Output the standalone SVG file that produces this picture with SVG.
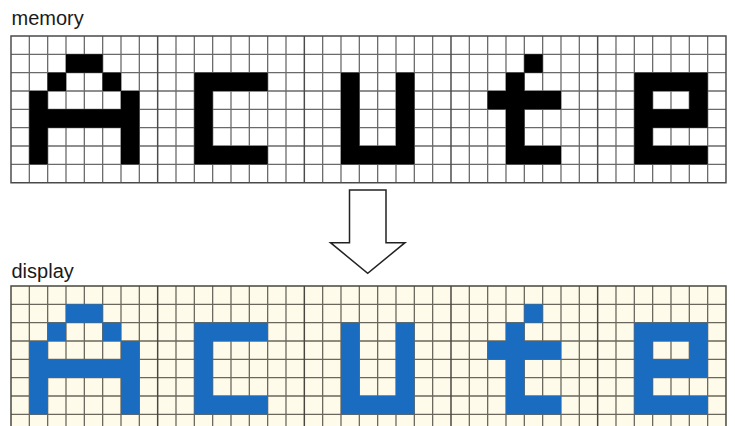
<svg xmlns="http://www.w3.org/2000/svg" xmlns:xlink="http://www.w3.org/1999/xlink" width="735" height="426" viewBox="0 0 735 426">
  <style>
    .label { font-family: "Liberation Sans", Arial, sans-serif; font-size: 20px; fill: #1a1a1a; }
    .grid { fill: none; stroke: #6a6a6a; stroke-width: 0.07; }
    .block { fill: none; stroke: #4a4a4a; stroke-width: 0.08; }
    .arrow { fill: #ffffff; stroke: #222222; stroke-width: 1.5; stroke-linejoin: miter; }
  </style>
  <defs>
    <path id="gridlines" d="M1,0V8M2,0V8M3,0V8M4,0V8M5,0V8M6,0V8M7,0V8M9,0V8M10,0V8M11,0V8M12,0V8M13,0V8M14,0V8M15,0V8M17,0V8M18,0V8M19,0V8M20,0V8M21,0V8M22,0V8M23,0V8M25,0V8M26,0V8M27,0V8M28,0V8M29,0V8M30,0V8M31,0V8M33,0V8M34,0V8M35,0V8M36,0V8M37,0V8M38,0V8M0,1H39M0,2H39M0,3H39M0,4H39M0,5H39M0,6H39M0,7H39"/>
    <path id="blocklines" d="M0,0H39V8H0ZM8,0V8M16,0V8M24,0V8M32,0V8"/>
    <path id="pix-A" d="M3,1h2v1h-2zM2,2h1v1h-1zM5,2h1v1h-1zM1,3h1v4h-1zM6,3h1v4h-1zM2,4h4v1h-4z"/>
    <path id="pix-C" d="M10,2h4v1h-4zM10,3h1v3h-1zM10,6h4v1h-4z"/>
    <path id="pix-U" d="M18,2h1v5h-1zM21,2h1v5h-1zM19,6h2v1h-2z"/>
    <path id="pix-t" d="M28,1h1v1h-1zM27,2h1v5h-1zM26,3h1v1h-1zM28,3h2v1h-2zM28,6h2v1h-2z"/>
    <path id="pix-e" d="M34,2h4v1h-4zM34,3h1v4h-1zM37,3h1v1h-1zM35,4h3v1h-3zM35,6h3v1h-3z"/>
  </defs>

  <g id="memory-label">
    <text class="label" x="11.5" y="25">memory</text>
  </g>

  <g id="memory" transform="translate(11,36) scale(18.333)">
    <rect x="0" y="0" width="39" height="8" fill="#ffffff"/>
    <use xlink:href="#gridlines" class="grid"/>
    <use xlink:href="#blocklines" class="block"/>
    <g id="memory-glyphs" fill="#000000">
      <use id="memory-A" xlink:href="#pix-A"/>
      <use id="memory-c" xlink:href="#pix-C"/>
      <use id="memory-u" xlink:href="#pix-U"/>
      <use id="memory-t" xlink:href="#pix-t"/>
      <use id="memory-e" xlink:href="#pix-e"/>
    </g>
  </g>

  <g id="connectors">
    <path class="arrow" d="M349.5,190H386V242.7H405L367.7,273.3L330.5,242.7H349.5Z"/>
  </g>

  <g id="display-label">
    <text class="label" x="11.5" y="278">display</text>
  </g>

  <g id="display" transform="translate(11,286) scale(18.333)">
    <rect x="0" y="0" width="39" height="8" fill="#fffbeb"/>
    <use xlink:href="#gridlines" class="grid" style="stroke:#6a685c"/>
    <use xlink:href="#blocklines" class="block" style="stroke:#48463e"/>
    <g id="display-glyphs" fill="#1a6cc0">
      <use id="display-A" xlink:href="#pix-A"/>
      <use id="display-c" xlink:href="#pix-C"/>
      <use id="display-u" xlink:href="#pix-U"/>
      <use id="display-t" xlink:href="#pix-t"/>
      <use id="display-e" xlink:href="#pix-e"/>
    </g>
  </g>
</svg>
